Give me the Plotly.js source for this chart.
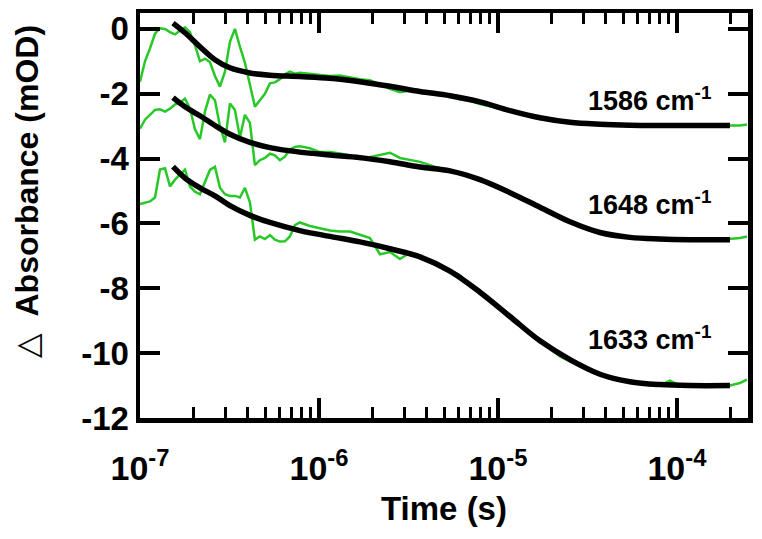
<!DOCTYPE html>
<html>
<head>
<meta charset="utf-8">
<script src="https://cdn.plot.ly/plotly-3.0.1.min.js"></script>
<style>
  html, body { margin: 0; padding: 0; background: #fff; }
  #graph { width: 762px; height: 539px; }
</style>
</head>
<body>
<div id="graph"></div>
<script>
// measured time base (s), shared by the three traces
const time = [
    1.000e-7, 1.066e-7, 1.137e-7, 1.213e-7, 1.293e-7, 1.379e-7, 1.471e-7, 1.569e-7,
    1.672e-7, 1.784e-7, 1.902e-7, 2.028e-7, 2.163e-7, 2.306e-7, 2.459e-7, 2.623e-7,
    2.797e-7, 2.982e-7, 3.181e-7, 3.392e-7, 3.617e-7, 3.857e-7, 4.113e-7, 4.386e-7,
    4.677e-7, 4.988e-7, 5.319e-7, 5.672e-7, 6.049e-7, 6.450e-7, 6.879e-7, 7.335e-7,
    7.822e-7, 8.896e-7,
    1.013e-6, 1.152e-6, 1.310e-6, 1.490e-6, 1.695e-6, 1.927e-6, 2.192e-6, 2.493e-6,
    2.835e-6, 3.224e-6, 3.667e-6, 4.171e-6, 4.742e-6, 5.394e-6, 6.134e-6, 6.977e-6,
    7.934e-6, 9.022e-6,
    1.026e-5, 1.167e-5, 1.327e-5, 1.509e-5, 1.717e-5, 1.952e-5, 2.220e-5, 2.525e-5,
    2.872e-5, 3.266e-5, 3.714e-5, 4.224e-5, 4.804e-5, 5.463e-5, 6.213e-5, 7.066e-5,
    8.035e-5, 9.140e-5,
    1.039e-4, 1.182e-4, 1.344e-4, 1.529e-4, 1.739e-4, 1.978e-4, 2.249e-4, 2.461e-4
];

// ΔA data (mOD)
const abs1586 = [
    -1.63, -1.0, -0.6, -0.15, 0.02, 0.0, -0.1, -0.17,
    -0.05, 0.05, -0.1, -0.5, -1.0, -0.92, -1.02, -1.45,
    -1.78, -1.32, -0.40, 0.0, -0.55, -1.05, -1.72, -2.4,
    -2.2, -2.0, -1.68, -1.65, -1.55, -1.4, -1.32, -1.38,
    -1.35, -1.38,
    -1.4, -1.45, -1.44, -1.5, -1.55, -1.58, -1.72, -1.85,
    -1.95, -1.9, -1.96, -2.0, -2.02, -2.08, -2.18, -2.22,
    -2.32, -2.38,
    -2.46, -2.55, -2.62, -2.7, -2.78, -2.82, -2.86, -2.9,
    -2.92, -2.93, -2.95, -2.96, -2.95, -2.97, -2.98, -2.96,
    -2.98, -2.97,
    -2.99, -2.98, -2.98, -2.99, -2.97, -2.99, -2.98, -2.95
];
const abs1648 = [
    -3.08, -2.8, -2.65, -2.5, -2.48, -2.55, -2.46, -2.33,
    -2.28, -2.15, -2.45, -3.1, -3.4, -2.55, -2.03, -2.2,
    -3.0, -3.5, -2.3, -2.5, -3.35, -2.65, -2.9, -4.2,
    -4.05, -3.98, -3.85, -3.9, -4.05, -3.94, -3.72, -3.64,
    -3.62, -3.68,
    -3.8, -3.8, -3.84, -3.9, -4.02, -3.95, -3.88, -3.82,
    -3.98, -4.05, -4.1, -4.2, -4.3, -4.36, -4.45, -4.55,
    -4.65, -4.78,
    -4.9, -5.05, -5.2, -5.35, -5.48, -5.62, -5.82, -5.95,
    -6.08, -6.22, -6.3, -6.38, -6.42, -6.45, -6.47, -6.5,
    -6.52, -6.48,
    -6.5, -6.53, -6.5, -6.52, -6.5, -6.48, -6.45, -6.4
];
const abs1633 = [
    -5.4, -5.35, -5.32, -5.2, -4.34, -4.3, -4.86, -4.65,
    -4.5, -4.34, -4.86, -5.02, -5.1, -4.7, -4.35, -4.25,
    -4.9, -5.1, -5.15, -5.15, -5.2, -4.9, -5.35, -6.5,
    -6.4, -6.48, -6.36, -6.5, -6.56, -6.55, -6.4, -6.05,
    -5.97, -6.08,
    -6.15, -6.22, -6.25, -6.25, -6.35, -6.45, -6.95, -6.88,
    -7.1, -6.9, -7.05, -7.2, -7.35, -7.45, -7.6, -7.9,
    -8.12, -8.4,
    -8.62, -8.88, -9.15, -9.4, -9.65, -9.85, -10.1, -10.25,
    -10.4, -10.55, -10.65, -10.78, -10.85, -10.9, -10.95, -10.97,
    -11.0, -10.85,
    -11.0, -11.02, -11.0, -11.02, -10.98, -11.0, -10.92, -10.82
];

// fitted curves
const fitTime = [
    1.529e-7, 1.784e-7, 2.163e-7, 2.623e-7, 3.181e-7, 4.113e-7, 5.319e-7, 7.822e-7,
    1.152e-6, 1.695e-6, 2.493e-6, 3.667e-6, 5.394e-6, 7.934e-6, 1.167e-5, 1.717e-5,
    2.525e-5, 3.714e-5, 5.463e-5, 8.035e-5, 1.182e-4, 1.978e-4
];
const fit1586 = [
    0.18, -0.12, -0.55, -0.95, -1.2, -1.36, -1.43, -1.47,
    -1.52, -1.63, -1.77, -1.93, -2.06, -2.25, -2.52, -2.74,
    -2.88, -2.94, -2.97, -2.98, -2.98, -2.98
];
const fit1648 = [
    -2.12, -2.4, -2.68, -2.98, -3.25, -3.5, -3.66, -3.8,
    -3.89, -3.97, -4.1, -4.26, -4.38, -4.65, -5.05, -5.5,
    -5.95, -6.28, -6.43, -6.48, -6.5, -6.5
];
const fit1633 = [
    -4.25, -4.6, -4.9, -5.15, -5.45, -5.75, -5.97, -6.22,
    -6.4, -6.57, -6.78, -7.03, -7.47, -8.12, -8.87, -9.62,
    -10.2, -10.65, -10.88, -10.97, -11.0, -11.0
];

// tick labels
const xTickVals = [1e-7, 1e-6, 1e-5, 1e-4];
const xTickText = ["10<sup>-7</sup>", "10<sup>-6</sup>", "10<sup>-5</sup>", "10<sup>-4</sup>"];
const yTickVals = [0, -2, -4, -6, -8, -10, -12];
const yTickText = ["0", "-2", "-4", "-6", "-8", "-10", "-12"];

const labels = ["1586 cm<sup>-1</sup>", "1648 cm<sup>-1</sup>", "1633 cm<sup>-1</sup>"];
const labelY = [-2.15, -5.38, -9.54];

const FONT = "Liberation Sans, Arial, Helvetica, sans-serif";
const green = "rgb(40,200,40)";

const traces = [];
[abs1586, abs1648, abs1633].forEach(vals => {
    traces.push({
        x: time, y: vals, mode: "lines", type: "scatter",
        line: { color: green, width: 2.5 }, hoverinfo: "skip"
    });
});
[fit1586, fit1648, fit1633].forEach(vals => {
    traces.push({
        x: fitTime, y: vals, mode: "lines", type: "scatter",
        line: { color: "black", width: 5.5, shape: "spline", smoothing: 1 }, hoverinfo: "skip"
    });
});

const annotations = labels.map((txt, i) => ({
    text: txt, xref: "paper", yref: "y", x: 0.9424, y: labelY[i],
    xanchor: "right", yanchor: "middle", showarrow: false,
    font: { family: FONT, size: 27, color: "black", weight: "bold" }
}));
annotations.push({
    text: "<span style='font-weight:normal'>\u25B3</span>  Absorbance (mOD)",
    xref: "paper", yref: "paper", x: -0.186, y: 0.56, textangle: -90,
    xanchor: "center", yanchor: "middle", showarrow: false,
    font: { family: FONT, size: 32, color: "black", weight: "bold" }
});

const layout = {
    width: 762, height: 539,
    margin: { l: 140, r: 14, t: 13, b: 121 },
    paper_bgcolor: "white", plot_bgcolor: "white",
    showlegend: false,
    font: { family: FONT, color: "black" },
    xaxis: {
        type: "log", range: [-7, -3.603],
        tickmode: "array", tickvals: xTickVals, ticktext: xTickText,
        showgrid: false, zeroline: false,
        showline: true, linewidth: 4.5, linecolor: "black", mirror: "ticks",
        ticks: "inside", ticklen: 20, tickwidth: 4, tickcolor: "black",
        ticklabelstandoff: 17,
        tickfont: { family: FONT, size: 34, weight: "bold" },
        minor: { ticks: "inside", ticklen: 11, tickwidth: 3, tickcolor: "black", dtick: "D1", showgrid: false },
        title: { text: "Time (s)", standoff: 12, font: { family: FONT, size: 33, weight: "bold" } }
    },
    yaxis: {
        range: [-12, 0.49],
        tickmode: "array", tickvals: yTickVals, ticktext: yTickText,
        showgrid: false, zeroline: false,
        showline: true, linewidth: 4.5, linecolor: "black", mirror: "ticks",
        ticks: "inside", ticklen: 20, tickwidth: 4, tickcolor: "black",
        tickfont: { family: FONT, size: 33, weight: "bold" }
    },
    annotations: annotations
};

Plotly.newPlot("graph", traces, layout, { displayModeBar: false, staticPlot: true });
</script>
</body>
</html>
